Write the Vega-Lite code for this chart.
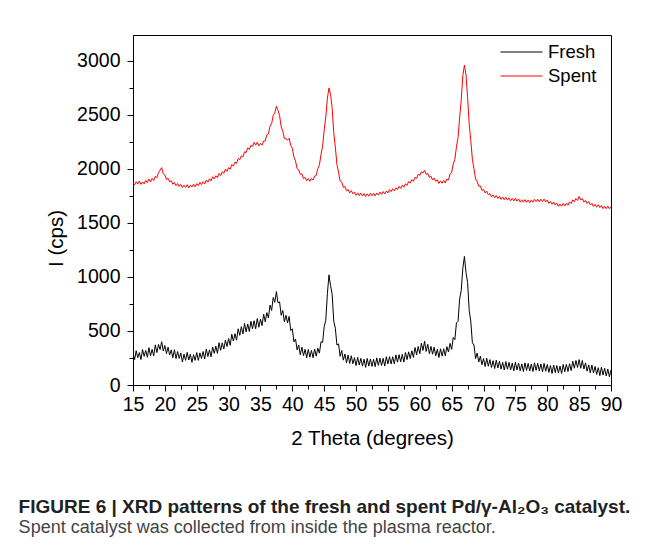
{
"$schema": "https://vega.github.io/schema/vega-lite/v6.json",
"width": 478, "height": 350,
"autosize": {"type": "none"},
"padding": {"left": 133, "top": 35, "right": 51, "bottom": 165},
"background": "white",
"config": {
  "view": {"stroke": "black", "strokeWidth": 1},
  "font": "Liberation Sans",
  "axis": {"grid": false, "domainColor": "black", "tickColor": "black", "labelColor": "black", "titleColor": "black", "labelFont": "Liberation Sans", "titleFont": "Liberation Sans", "labelFontSize": 19.5, "titleFontSize": 20.5, "titleFontWeight": "normal"}
},
"title": {
  "text": "FIGURE 6 | XRD patterns of the fresh and spent Pd/γ-Al₂O₃ catalyst.",
  "subtitle": "Spent catalyst was collected from inside the plasma reactor.",
  "orient": "bottom", "anchor": "start", "frame": "bounds", "dx": -28, "offset": 49,
  "font": "Liberation Sans", "fontSize": 19, "fontWeight": "bold", "color": "#222",
  "subtitleFont": "Liberation Sans", "subtitleFontSize": 18, "subtitleColor": "#444", "subtitlePadding": 2
},
"data": {"values": [
{"x":15.00,"Fresh":300,"Spent":1875},{"x":15.25,"Fresh":235,"Spent":1853},{"x":15.50,"Fresh":317,"Spent":1882},{"x":15.75,"Fresh":253,"Spent":1860},
{"x":16.00,"Fresh":300,"Spent":1888},{"x":16.25,"Fresh":236,"Spent":1857},{"x":16.50,"Fresh":328,"Spent":1880},{"x":16.75,"Fresh":265,"Spent":1861},
{"x":17.00,"Fresh":320,"Spent":1894},{"x":17.25,"Fresh":257,"Spent":1873},{"x":17.50,"Fresh":345,"Spent":1906},{"x":17.75,"Fresh":270,"Spent":1881},
{"x":18.00,"Fresh":330,"Spent":1912},{"x":18.25,"Fresh":270,"Spent":1893},{"x":18.50,"Fresh":372,"Spent":1932},{"x":18.75,"Fresh":300,"Spent":1920},
{"x":19.00,"Fresh":375,"Spent":1966},{"x":19.25,"Fresh":328,"Spent":1990},{"x":19.50,"Fresh":400,"Spent":2012},{"x":19.75,"Fresh":315,"Spent":1955},
{"x":20.00,"Fresh":365,"Spent":1943},{"x":20.25,"Fresh":290,"Spent":1903},{"x":20.50,"Fresh":350,"Spent":1914},{"x":20.75,"Fresh":277,"Spent":1880},
{"x":21.00,"Fresh":325,"Spent":1892},{"x":21.25,"Fresh":253,"Spent":1858},{"x":21.50,"Fresh":327,"Spent":1875},{"x":21.75,"Fresh":245,"Spent":1845},
{"x":22.00,"Fresh":310,"Spent":1866},{"x":22.25,"Fresh":246,"Spent":1837},{"x":22.50,"Fresh":297,"Spent":1857},{"x":22.75,"Fresh":213,"Spent":1828},
{"x":23.00,"Fresh":285,"Spent":1850},{"x":23.25,"Fresh":228,"Spent":1828},{"x":23.50,"Fresh":302,"Spent":1854},{"x":23.75,"Fresh":231,"Spent":1824},
{"x":24.00,"Fresh":285,"Spent":1850},{"x":24.25,"Fresh":210,"Spent":1833},{"x":24.50,"Fresh":281,"Spent":1859},{"x":24.75,"Fresh":228,"Spent":1834},
{"x":25.00,"Fresh":300,"Spent":1864},{"x":25.25,"Fresh":228,"Spent":1844},{"x":25.50,"Fresh":297,"Spent":1877},{"x":25.75,"Fresh":246,"Spent":1854},
{"x":26.00,"Fresh":310,"Spent":1882},{"x":26.25,"Fresh":241,"Spent":1862},{"x":26.50,"Fresh":332,"Spent":1898},{"x":26.75,"Fresh":263,"Spent":1878},
{"x":27.00,"Fresh":325,"Spent":1909},{"x":27.25,"Fresh":261,"Spent":1890},{"x":27.50,"Fresh":352,"Spent":1928},{"x":27.75,"Fresh":293,"Spent":1907},
{"x":28.00,"Fresh":360,"Spent":1937},{"x":28.25,"Fresh":293,"Spent":1919},{"x":28.50,"Fresh":392,"Spent":1958},{"x":28.75,"Fresh":321,"Spent":1939},
{"x":29.00,"Fresh":390,"Spent":1974},{"x":29.25,"Fresh":333,"Spent":1960},{"x":29.50,"Fresh":417,"Spent":1998},{"x":29.75,"Fresh":356,"Spent":1978},
{"x":30.00,"Fresh":430,"Spent":2012},{"x":30.25,"Fresh":367,"Spent":1998},{"x":30.50,"Fresh":470,"Spent":2041},{"x":30.75,"Fresh":407,"Spent":2027},
{"x":31.00,"Fresh":475,"Spent":2064},{"x":31.25,"Fresh":415,"Spent":2052},{"x":31.50,"Fresh":520,"Spent":2098},{"x":31.75,"Fresh":460,"Spent":2085},
{"x":32.00,"Fresh":540,"Spent":2122},{"x":32.25,"Fresh":473,"Spent":2111},{"x":32.50,"Fresh":570,"Spent":2159},{"x":32.75,"Fresh":492,"Spent":2152},
{"x":33.00,"Fresh":565,"Spent":2196},{"x":33.25,"Fresh":495,"Spent":2181},{"x":33.50,"Fresh":590,"Spent":2219},{"x":33.75,"Fresh":520,"Spent":2208},
{"x":34.00,"Fresh":595,"Spent":2246},{"x":34.25,"Fresh":520,"Spent":2220},{"x":34.50,"Fresh":615,"Spent":2246},{"x":34.75,"Fresh":535,"Spent":2214},
{"x":35.00,"Fresh":610,"Spent":2237},{"x":35.25,"Fresh":550,"Spent":2220},{"x":35.50,"Fresh":655,"Spent":2259},{"x":35.75,"Fresh":585,"Spent":2258},
{"x":36.00,"Fresh":670,"Spent":2316},{"x":36.25,"Fresh":620,"Spent":2325},{"x":36.50,"Fresh":740,"Spent":2394},{"x":36.75,"Fresh":690,"Spent":2418},
{"x":37.00,"Fresh":810,"Spent":2496},{"x":37.25,"Fresh":765,"Spent":2520},{"x":37.50,"Fresh":865,"Spent":2580},{"x":37.75,"Fresh":760,"Spent":2543},
{"x":38.00,"Fresh":770,"Spent":2494},{"x":38.25,"Fresh":645,"Spent":2390},{"x":38.50,"Fresh":690,"Spent":2352},{"x":38.75,"Fresh":585,"Spent":2281},
{"x":39.00,"Fresh":645,"Spent":2280},{"x":39.25,"Fresh":575,"Spent":2267},{"x":39.50,"Fresh":635,"Spent":2284},{"x":39.75,"Fresh":505,"Spent":2218},
{"x":40.00,"Fresh":520,"Spent":2192},{"x":40.25,"Fresh":400,"Spent":2110},{"x":40.50,"Fresh":425,"Spent":2074},{"x":40.75,"Fresh":325,"Spent":2003},
{"x":41.00,"Fresh":370,"Spent":1992},{"x":41.25,"Fresh":280,"Spent":1950},{"x":41.50,"Fresh":350,"Spent":1954},{"x":41.75,"Fresh":272,"Spent":1910},
{"x":42.00,"Fresh":330,"Spent":1922},{"x":42.25,"Fresh":252,"Spent":1891},{"x":42.50,"Fresh":329,"Spent":1912},{"x":42.75,"Fresh":257,"Spent":1886},
{"x":43.00,"Fresh":320,"Spent":1912},{"x":43.25,"Fresh":253,"Spent":1897},{"x":43.50,"Fresh":332,"Spent":1934},{"x":43.75,"Fresh":267,"Spent":1940},
{"x":44.00,"Fresh":340,"Spent":2002},{"x":44.25,"Fresh":295,"Spent":2038},{"x":44.50,"Fresh":400,"Spent":2134},{"x":44.75,"Fresh":395,"Spent":2210},
{"x":45.00,"Fresh":540,"Spent":2362},{"x":45.25,"Fresh":600,"Spent":2480},{"x":45.50,"Fresh":845,"Spent":2654},{"x":45.75,"Fresh":1020,"Spent":2750},
{"x":46.00,"Fresh":920,"Spent":2690},{"x":46.25,"Fresh":840,"Spent":2562},{"x":46.50,"Fresh":590,"Spent":2336},{"x":46.75,"Fresh":525,"Spent":2202},
{"x":47.00,"Fresh":370,"Spent":2040},{"x":47.25,"Fresh":380,"Spent":1972},{"x":47.50,"Fresh":265,"Spent":1888},{"x":47.75,"Fresh":320,"Spent":1879},
{"x":48.00,"Fresh":230,"Spent":1830},{"x":48.25,"Fresh":287,"Spent":1837},{"x":48.50,"Fresh":205,"Spent":1798},{"x":48.75,"Fresh":277,"Spent":1810},
{"x":49.00,"Fresh":200,"Spent":1778},{"x":49.25,"Fresh":271,"Spent":1799},{"x":49.50,"Fresh":197,"Spent":1770},{"x":49.75,"Fresh":253,"Spent":1787},
{"x":50.00,"Fresh":180,"Spent":1756},{"x":50.25,"Fresh":257,"Spent":1778},{"x":50.50,"Fresh":185,"Spent":1753},{"x":50.75,"Fresh":247,"Spent":1776},
{"x":51.00,"Fresh":175,"Spent":1750},{"x":51.25,"Fresh":239,"Spent":1772},{"x":51.50,"Fresh":163,"Spent":1746},{"x":51.75,"Fresh":246,"Spent":1770},
{"x":52.00,"Fresh":175,"Spent":1748},{"x":52.25,"Fresh":241,"Spent":1775},{"x":52.50,"Fresh":172,"Spent":1752},{"x":52.75,"Fresh":238,"Spent":1775},
{"x":53.00,"Fresh":170,"Spent":1751},{"x":53.25,"Fresh":251,"Spent":1777},{"x":53.50,"Fresh":182,"Spent":1758},{"x":53.75,"Fresh":248,"Spent":1786},
{"x":54.00,"Fresh":180,"Spent":1765},{"x":54.25,"Fresh":247,"Spent":1791},{"x":54.50,"Fresh":175,"Spent":1768},{"x":54.75,"Fresh":262,"Spent":1796},
{"x":55.00,"Fresh":195,"Spent":1778},{"x":55.25,"Fresh":262,"Spent":1809},{"x":55.50,"Fresh":195,"Spent":1790},{"x":55.75,"Fresh":262,"Spent":1817},
{"x":56.00,"Fresh":195,"Spent":1796},{"x":56.25,"Fresh":279,"Spent":1825},{"x":56.50,"Fresh":212,"Spent":1808},{"x":56.75,"Fresh":281,"Spent":1839},
{"x":57.00,"Fresh":215,"Spent":1820},{"x":57.25,"Fresh":284,"Spent":1849},{"x":57.50,"Fresh":212,"Spent":1831},{"x":57.75,"Fresh":301,"Spent":1862},
{"x":58.00,"Fresh":235,"Spent":1848},{"x":58.25,"Fresh":307,"Spent":1884},{"x":58.50,"Fresh":245,"Spent":1870},{"x":58.75,"Fresh":317,"Spent":1902},
{"x":59.00,"Fresh":255,"Spent":1886},{"x":59.25,"Fresh":347,"Spent":1922},{"x":59.50,"Fresh":280,"Spent":1913},{"x":59.75,"Fresh":357,"Spent":1951},
{"x":60.00,"Fresh":290,"Spent":1940},{"x":60.25,"Fresh":387,"Spent":1974},{"x":60.50,"Fresh":320,"Spent":1963},{"x":60.75,"Fresh":405,"Spent":1986},
{"x":61.00,"Fresh":310,"Spent":1950},{"x":61.25,"Fresh":377,"Spent":1959},{"x":61.50,"Fresh":290,"Spent":1921},{"x":61.75,"Fresh":357,"Spent":1932},
{"x":62.00,"Fresh":285,"Spent":1898},{"x":62.25,"Fresh":350,"Spent":1916},{"x":62.50,"Fresh":270,"Spent":1885},{"x":62.75,"Fresh":330,"Spent":1899},
{"x":63.00,"Fresh":255,"Spent":1866},{"x":63.25,"Fresh":335,"Spent":1890},{"x":63.50,"Fresh":267,"Spent":1868},{"x":63.75,"Fresh":336,"Spent":1894},
{"x":64.00,"Fresh":270,"Spent":1870},{"x":64.25,"Fresh":355,"Spent":1905},{"x":64.50,"Fresh":305,"Spent":1898},{"x":64.75,"Fresh":385,"Spent":1954},
{"x":65.00,"Fresh":330,"Spent":1970},{"x":65.25,"Fresh":440,"Spent":2047},{"x":65.50,"Fresh":420,"Spent":2088},{"x":65.75,"Fresh":575,"Spent":2204},
{"x":66.00,"Fresh":590,"Spent":2290},{"x":66.25,"Fresh":795,"Spent":2472},{"x":66.50,"Fresh":875,"Spent":2638},{"x":66.75,"Fresh":1080,"Spent":2864},
{"x":67.00,"Fresh":1190,"Spent":2962},{"x":67.25,"Fresh":1040,"Spent":2870},{"x":67.50,"Fresh":950,"Spent":2662},{"x":67.75,"Fresh":690,"Spent":2418},
{"x":68.00,"Fresh":590,"Spent":2262},{"x":68.25,"Fresh":390,"Spent":2090},{"x":68.50,"Fresh":370,"Spent":2002},{"x":68.75,"Fresh":245,"Spent":1908},
{"x":69.00,"Fresh":295,"Spent":1884},{"x":69.25,"Fresh":213,"Spent":1840},{"x":69.50,"Fresh":266,"Spent":1842},{"x":69.75,"Fresh":188,"Spent":1801},
{"x":70.00,"Fresh":245,"Spent":1810},{"x":70.25,"Fresh":171,"Spent":1778},{"x":70.50,"Fresh":247,"Spent":1794},{"x":70.75,"Fresh":174,"Spent":1760},
{"x":71.00,"Fresh":235,"Spent":1772},{"x":71.25,"Fresh":162,"Spent":1741},{"x":71.50,"Fresh":225,"Spent":1760},{"x":71.75,"Fresh":152,"Spent":1733},
{"x":72.00,"Fresh":230,"Spent":1754},{"x":72.25,"Fresh":157,"Spent":1727},{"x":72.50,"Fresh":220,"Spent":1747},{"x":72.75,"Fresh":147,"Spent":1718},
{"x":73.00,"Fresh":210,"Spent":1740},{"x":73.25,"Fresh":139,"Spent":1715},{"x":73.50,"Fresh":217,"Spent":1739},{"x":73.75,"Fresh":146,"Spent":1712},
{"x":74.00,"Fresh":210,"Spent":1732},{"x":74.25,"Fresh":139,"Spent":1705},{"x":74.50,"Fresh":202,"Spent":1727},{"x":74.75,"Fresh":131,"Spent":1704},
{"x":75.00,"Fresh":210,"Spent":1729},{"x":75.25,"Fresh":139,"Spent":1702},{"x":75.50,"Fresh":202,"Spent":1722},{"x":75.75,"Fresh":131,"Spent":1693},
{"x":76.00,"Fresh":195,"Spent":1715},{"x":76.25,"Fresh":125,"Spent":1692},{"x":76.50,"Fresh":205,"Spent":1716},{"x":76.75,"Fresh":135,"Spent":1691},
{"x":77.00,"Fresh":200,"Spent":1712},{"x":77.25,"Fresh":130,"Spent":1687},{"x":77.50,"Fresh":195,"Spent":1712},{"x":77.75,"Fresh":125,"Spent":1692},
{"x":78.00,"Fresh":205,"Spent":1719},{"x":78.25,"Fresh":135,"Spent":1697},{"x":78.50,"Fresh":200,"Spent":1720},{"x":78.75,"Fresh":130,"Spent":1696},
{"x":79.00,"Fresh":195,"Spent":1720},{"x":79.25,"Fresh":122,"Spent":1698},{"x":79.50,"Fresh":200,"Spent":1721},{"x":79.75,"Fresh":127,"Spent":1694},
{"x":80.00,"Fresh":190,"Spent":1712},{"x":80.25,"Fresh":117,"Spent":1681},{"x":80.50,"Fresh":180,"Spent":1700},{"x":80.75,"Fresh":107,"Spent":1673},
{"x":81.00,"Fresh":185,"Spent":1694},{"x":81.25,"Fresh":115,"Spent":1666},{"x":81.50,"Fresh":180,"Spent":1684},{"x":81.75,"Fresh":110,"Spent":1654},
{"x":82.00,"Fresh":175,"Spent":1675},{"x":82.25,"Fresh":107,"Spent":1654},{"x":82.50,"Fresh":190,"Spent":1681},{"x":82.75,"Fresh":122,"Spent":1658},
{"x":83.00,"Fresh":190,"Spent":1682},{"x":83.25,"Fresh":125,"Spent":1663},{"x":83.50,"Fresh":197,"Spent":1695},{"x":83.75,"Fresh":133,"Spent":1680},
{"x":84.00,"Fresh":220,"Spent":1714},{"x":84.25,"Fresh":155,"Spent":1697},{"x":84.50,"Fresh":227,"Spent":1727},{"x":84.75,"Fresh":162,"Spent":1708},
{"x":85.00,"Fresh":235,"Spent":1746},{"x":85.25,"Fresh":155,"Spent":1713},{"x":85.50,"Fresh":227,"Spent":1727},{"x":85.75,"Fresh":148,"Spent":1693},
{"x":86.00,"Fresh":205,"Spent":1710},{"x":86.25,"Fresh":128,"Spent":1680},{"x":86.50,"Fresh":187,"Spent":1699},{"x":86.75,"Fresh":111,"Spent":1667},
{"x":87.00,"Fresh":185,"Spent":1682},{"x":87.25,"Fresh":111,"Spent":1652},{"x":87.50,"Fresh":172,"Spent":1672},{"x":87.75,"Fresh":98,"Spent":1646},
{"x":88.00,"Fresh":160,"Spent":1669},{"x":88.25,"Fresh":87,"Spent":1642},{"x":88.50,"Fresh":165,"Spent":1662},{"x":88.75,"Fresh":92,"Spent":1633},
{"x":89.00,"Fresh":155,"Spent":1655},{"x":89.25,"Fresh":84,"Spent":1632},{"x":89.50,"Fresh":147,"Spent":1656},{"x":89.75,"Fresh":76,"Spent":1631},
{"x":90.00,"Fresh":140,"Spent":1648}
]},
"transform": [{"fold": ["Fresh", "Spent"], "as": ["series", "cps"]}],
"mark": {"type": "line", "strokeWidth": 1, "clip": true},
"encoding": {
  "x": {"field": "x", "type": "quantitative",
    "scale": {"domain": [15, 90], "nice": false, "zero": false},
    "axis": {"title": "2 Theta (degrees)", "values": [15,17.5,20,22.5,25,27.5,30,32.5,35,37.5,40,42.5,45,47.5,50,52.5,55,57.5,60,62.5,65,67.5,70,72.5,75,77.5,80,82.5,85,87.5,90],
      "labelExpr": "datum.value % 5 === 0 ? datum.label : ''", "labelPadding": 4, "labelFlush": false,
      "tickSize": {"condition": {"test": "datum.value % 5 === 0", "value": 6}, "value": 4}, "titlePadding": 15}},
  "y": {"field": "cps", "type": "quantitative",
    "scale": {"domain": [0, 3240], "nice": false},
    "axis": {"title": "I (cps)", "format": "d", "values": [0,250,500,750,1000,1250,1500,1750,2000,2250,2500,2750,3000],
      "labelExpr": "datum.value % 500 === 0 ? datum.label : ''", "labelPadding": 7,
      "tickSize": {"condition": {"test": "datum.value % 500 === 0", "value": 6}, "value": 4}, "titlePadding": 10, "titleY": 203}},
  "color": {"field": "series", "type": "nominal",
    "scale": {"domain": ["Fresh", "Spent"], "range": ["#000000", "#ff0000"]},
    "legend": {"title": null, "orient": "none", "legendX": 367, "legendY": 6, "symbolType": "stroke", "symbolSize": 1764, "symbolStrokeWidth": 1, "clipHeight": 22,
      "labelFontSize": 18.5, "labelFont": "Liberation Sans", "labelColor": "black", "labelOffset": 5, "rowPadding": 2, "padding": 0}}
}
}
